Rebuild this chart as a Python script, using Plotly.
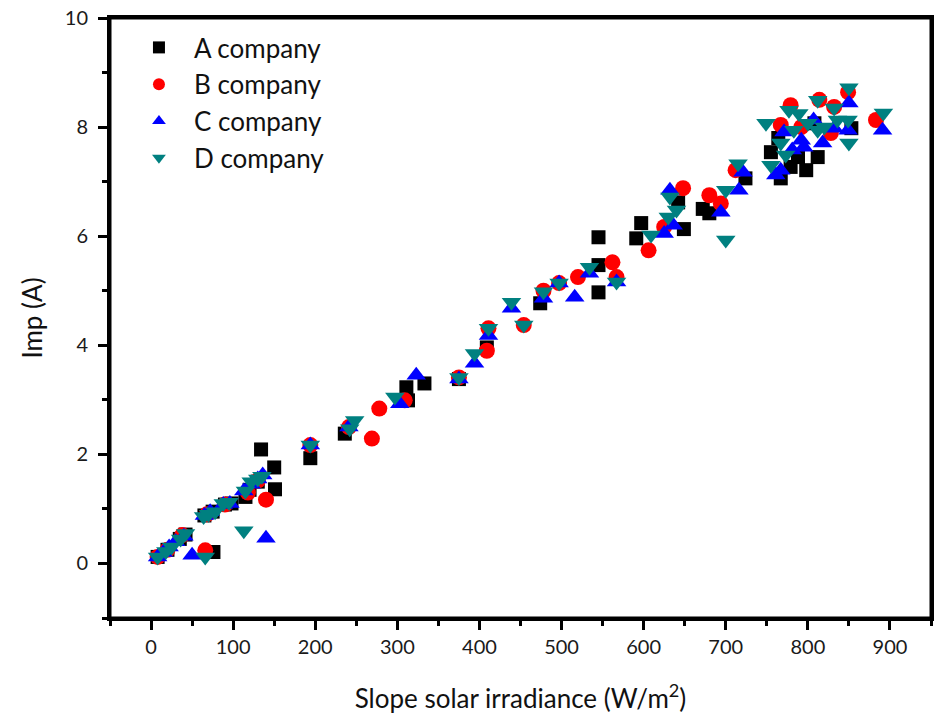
import plotly.graph_objects as go

# Company A (black squares)
a_x = [8, 20, 35, 42, 76, 65, 75, 90, 98, 115, 120, 130, 134, 150, 151, 194, 236, 311, 313, 333,
       375, 409, 474, 545, 545, 545, 591, 597, 642, 649, 672, 680, 724, 755, 764, 767, 779, 788,
       798, 808, 812, 853]
a_y = [0.12, 0.25, 0.45, 0.53, 0.21, 0.88, 0.95, 1.08, 1.10, 1.22, 1.35, 1.50, 2.09, 1.76, 1.36,
       1.93, 2.38, 3.23, 2.99, 3.30, 3.38, 3.96, 4.77, 5.47, 4.97, 5.98, 5.96, 6.24, 6.62, 6.13,
       6.50, 6.42, 7.06, 7.54, 7.80, 7.06, 7.27, 7.45, 7.21, 8.07, 7.45, 7.98]

# Company B (red circles)
b_x = [8, 20, 38, 66, 68, 90, 118, 130, 140, 194, 241, 269, 278, 309, 375, 409, 411, 454, 478,
       497, 520, 562, 567, 606, 625, 648, 680, 694, 712, 767, 779, 792, 814, 828, 832, 849, 883]
b_y = [0.12, 0.25, 0.52, 0.24, 0.90, 1.08, 1.30, 1.52, 1.17, 2.17, 2.50, 2.29, 2.84, 2.99, 3.41,
       3.90, 4.31, 4.37, 5.00, 5.14, 5.25, 5.52, 5.25, 5.74, 6.17, 6.88, 6.75, 6.60, 7.21, 8.04,
       8.40, 8.00, 8.50, 7.89, 8.37, 8.64, 8.13]

# Company C (blue up-triangles)
c_x = [8, 15, 22, 30, 40, 50, 65, 72, 88, 96, 113, 122, 130, 136, 140, 194, 241, 303, 323, 375,
       394, 411, 439, 478, 497, 516, 534, 567, 625, 636, 632, 694, 716, 721, 761, 767, 771, 781,
       792, 795, 807, 818, 832, 849, 850, 891]
c_y = [0.12, 0.20, 0.30, 0.40, 0.50, 0.15, 0.88, 0.95, 1.08, 1.10, 1.33, 1.45, 1.55, 1.62, 0.46,
       2.17, 2.50, 2.93, 3.45, 3.38, 3.67, 4.18, 4.68, 4.86, 5.14, 4.88, 5.32, 5.16, 6.05, 6.20,
       6.84, 6.44, 6.84, 7.17, 7.12, 7.21, 7.91, 7.58, 7.76, 7.63, 8.13, 7.71, 7.98, 7.94, 8.44,
       7.94]

# Company D (teal down-triangles)
d_x = [8, 18, 25, 36, 42, 66, 64, 70, 78, 88, 95, 113, 115, 122, 130, 135, 194, 242, 248, 297,
       375, 394, 411, 439, 454, 478, 497, 534, 567, 609, 632, 640, 630, 700, 700, 715, 749, 755,
       767, 773, 777, 783, 789, 800, 812, 812, 820, 832, 836, 849, 850, 850, 892]
d_y = [0.12, 0.22, 0.30, 0.45, 0.55, 0.12, 0.86, 0.90, 0.95, 1.10, 1.12, 0.60, 1.33, 1.50, 1.55,
       1.60, 2.17, 2.47, 2.62, 3.05, 3.41, 3.85, 4.31, 4.79, 4.37, 4.98, 5.14, 5.43, 5.16, 6.02,
       6.72, 6.48, 6.35, 6.84, 5.93, 7.33, 8.07, 7.30, 7.71, 7.49, 8.31, 7.94, 8.25, 8.07, 8.49,
       7.94, 8.00, 8.35, 8.13, 8.13, 7.71, 8.72, 8.26]

series = [
    ("A company", a_x, a_y, "square", "#000000", 14),
    ("B company", b_x, b_y, "circle", "#ff0000", 16),
    ("C company", c_x, c_y, "triangle-up", "#0000ff", 17),
    ("D company", d_x, d_y, "triangle-down", "#008080", 17),
]

x_ticks = [0, 100, 200, 300, 400, 500, 600, 700, 800, 900]
y_ticks = [0, 2, 4, 6, 8, 10]

FONT = "Lato, Open Sans, sans-serif"

fig = go.Figure()
for name, xs, ys, sym, col, sz in series:
    fig.add_trace(go.Scatter(
        x=xs, y=ys, mode="markers", name=name,
        marker=dict(symbol=sym, color=col, size=sz, line=dict(width=0)),
    ))

axis_common = dict(
    showgrid=False, zeroline=False, showline=True, linecolor="black", linewidth=3,
    mirror=True, ticks="outside", ticklen=9, tickwidth=3, tickcolor="black",
    tickfont=dict(family=FONT, size=20, color="#1a1a1a"), ticklabeloverflow="allow",
)

fig.update_layout(
    width=945, height=726,
    margin=dict(l=110, r=14, t=18, b=108),
    paper_bgcolor="white", plot_bgcolor="white",
    font=dict(family=FONT, color="#111111"),
    xaxis=dict(range=[-50, 950], tickvals=x_ticks, automargin="bottom",
               minor=dict(ticks="outside", ticklen=5, tickwidth=3, tickcolor="black", dtick=50, tick0=-50),
               title=dict(text="Slope solar irradiance (W/m<sup>2</sup>)", font=dict(family=FONT, size=26), standoff=33),
               **axis_common),
    yaxis=dict(range=[-1, 10], tickvals=y_ticks, automargin="left",
               minor=dict(ticks="outside", ticklen=5, tickwidth=3, tickcolor="black", dtick=1, tick0=-1),
               title=dict(text="Imp (A)", font=dict(family=FONT, size=26), standoff=15),
               ticklabelstandoff=6,
               **axis_common),
    legend=dict(x=0.017, y=0.99, xanchor="left", yanchor="top", bgcolor="rgba(0,0,0,0)",
                font=dict(family=FONT, size=26), itemsizing="constant", itemwidth=60,
                tracegroupgap=0),
    showlegend=True,
    shapes=[dict(type="rect", xref="paper", yref="paper", x0=0, x1=1, y0=0, y1=1,
                 line=dict(color="black", width=3), fillcolor="rgba(0,0,0,0)", layer="above")],
)

fig.write_html(
    "out.html",
    config={"displayModeBar": False},
    post_script="document.body.style.margin='0';document.body.style.overflow='hidden';",
)
